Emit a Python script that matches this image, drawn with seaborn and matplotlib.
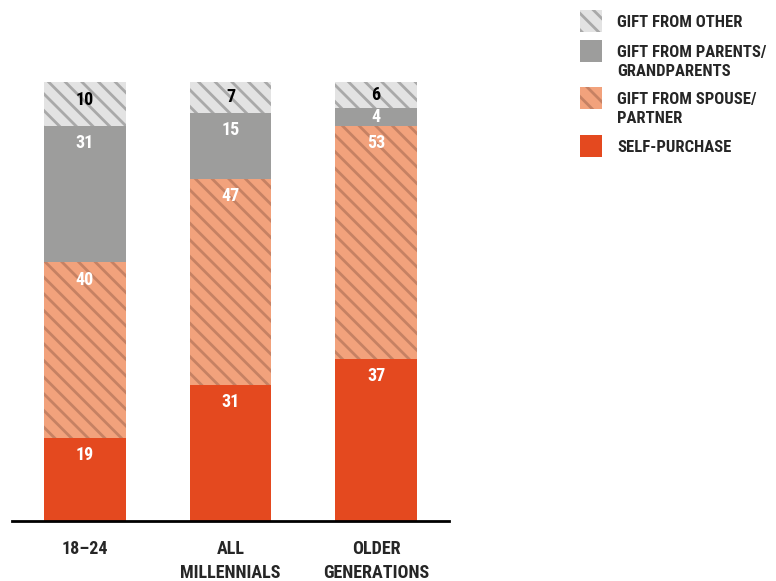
import matplotlib
matplotlib.use("Agg")
import matplotlib.pyplot as plt
from matplotlib import font_manager
from matplotlib.patches import Rectangle
import seaborn as sns

# data
categories = ["18–24", "ALL\nMILLENNIALS", "OLDER\nGENERATIONS"]
self_purchase = [19, 31, 37]
gift_spouse = [40, 47, 53]
gift_parents = [31, 15, 4]
gift_other = [10, 7, 6]

sns.set_style("white")

# pick a condensed font if one is around
names = {f.name for f in font_manager.fontManager.ttflist}
font = "DejaVu Sans"
for cand in ["Roboto Condensed", "Liberation Sans Narrow", "Open Sans Condensed", "Noto Sans Condensed"]:
    if cand in names:
        font = cand
        break
plt.rcParams["font.family"] = [font, "DejaVu Sans"]
plt.rcParams["hatch.linewidth"] = 2.0

fig = plt.figure(figsize=(7.76, 5.81), dpi=100)
ax = fig.add_axes([12 / 776, 60 / 581, 437 / 776, 439 / 581])

orange = "#E4491F"
salmon = "#F2A27C"
salmon_hatch = "#C68163"
gray = "#9D9D9C"
light = "#E3E3E3"
light_hatch = "#A9A9A9"

styles = [
    (self_purchase, orange, orange, None),
    (gift_spouse, salmon, salmon_hatch, "\\\\"),
    (gift_parents, gray, gray, None),
    (gift_other, light, light_hatch, "\\\\"),
]

bottom = [0, 0, 0]
for vals, fc, ec, hatch in styles:
    sns.barplot(x=categories, y=vals, ax=ax, color=fc, saturation=1,
                width=0.56, bottom=bottom, edgecolor=ec, linewidth=0,
                hatch=hatch)
    for i, v in enumerate(vals):
        txtcol = "black" if vals is gift_other else "white"
        # labels sit near the top of each segment (centred if it is thin)
        ax.text(i, bottom[i] + v - min(4.0, v / 2), str(v), ha="center",
                va="center", color=txtcol, fontsize=13, fontweight="bold")
    bottom = [b + v for b, v in zip(bottom, vals)]

ax.set_xlim(-0.5, 2.5)
ax.set_ylim(0, 100)
ax.set_yticks([])
ax.set_xlabel("")
ax.set_ylabel("")
for s in ["top", "right", "left"]:
    ax.spines[s].set_visible(False)
ax.spines["bottom"].set_linewidth(2)
ax.spines["bottom"].set_color("black")
ax.tick_params(axis="x", length=0, pad=14)
for lab in ax.get_xticklabels():
    lab.set_fontsize(13)
    lab.set_fontweight("bold")
    lab.set_linespacing(1.4)
    lab.set_va("top")

# legend, drawn by hand so the patches line up with first line of text
legend_items = [
    ("GIFT FROM OTHER", light, light_hatch, "\\\\", 10),
    ("GIFT FROM PARENTS/\nGRANDPARENTS", gray, gray, None, 40),
    ("GIFT FROM SPOUSE/\nPARTNER", salmon, salmon_hatch, "\\\\", 87),
    ("SELF-PURCHASE", orange, orange, None, 135),
]
W, H = 776, 581
for label, fc, ec, hatch, top in legend_items:
    fig.add_artist(Rectangle((580 / W, 1 - (top + 22) / H), 22 / W, 22 / H,
                             transform=fig.transFigure, facecolor=fc,
                             edgecolor=ec, linewidth=0, hatch=hatch))
    fig.text(617 / W, 1 - (top + 5) / H, label, ha="left", va="top",
             fontsize=12, fontweight="bold", linespacing=1.35)

fig.savefig("out.png", dpi=100)
